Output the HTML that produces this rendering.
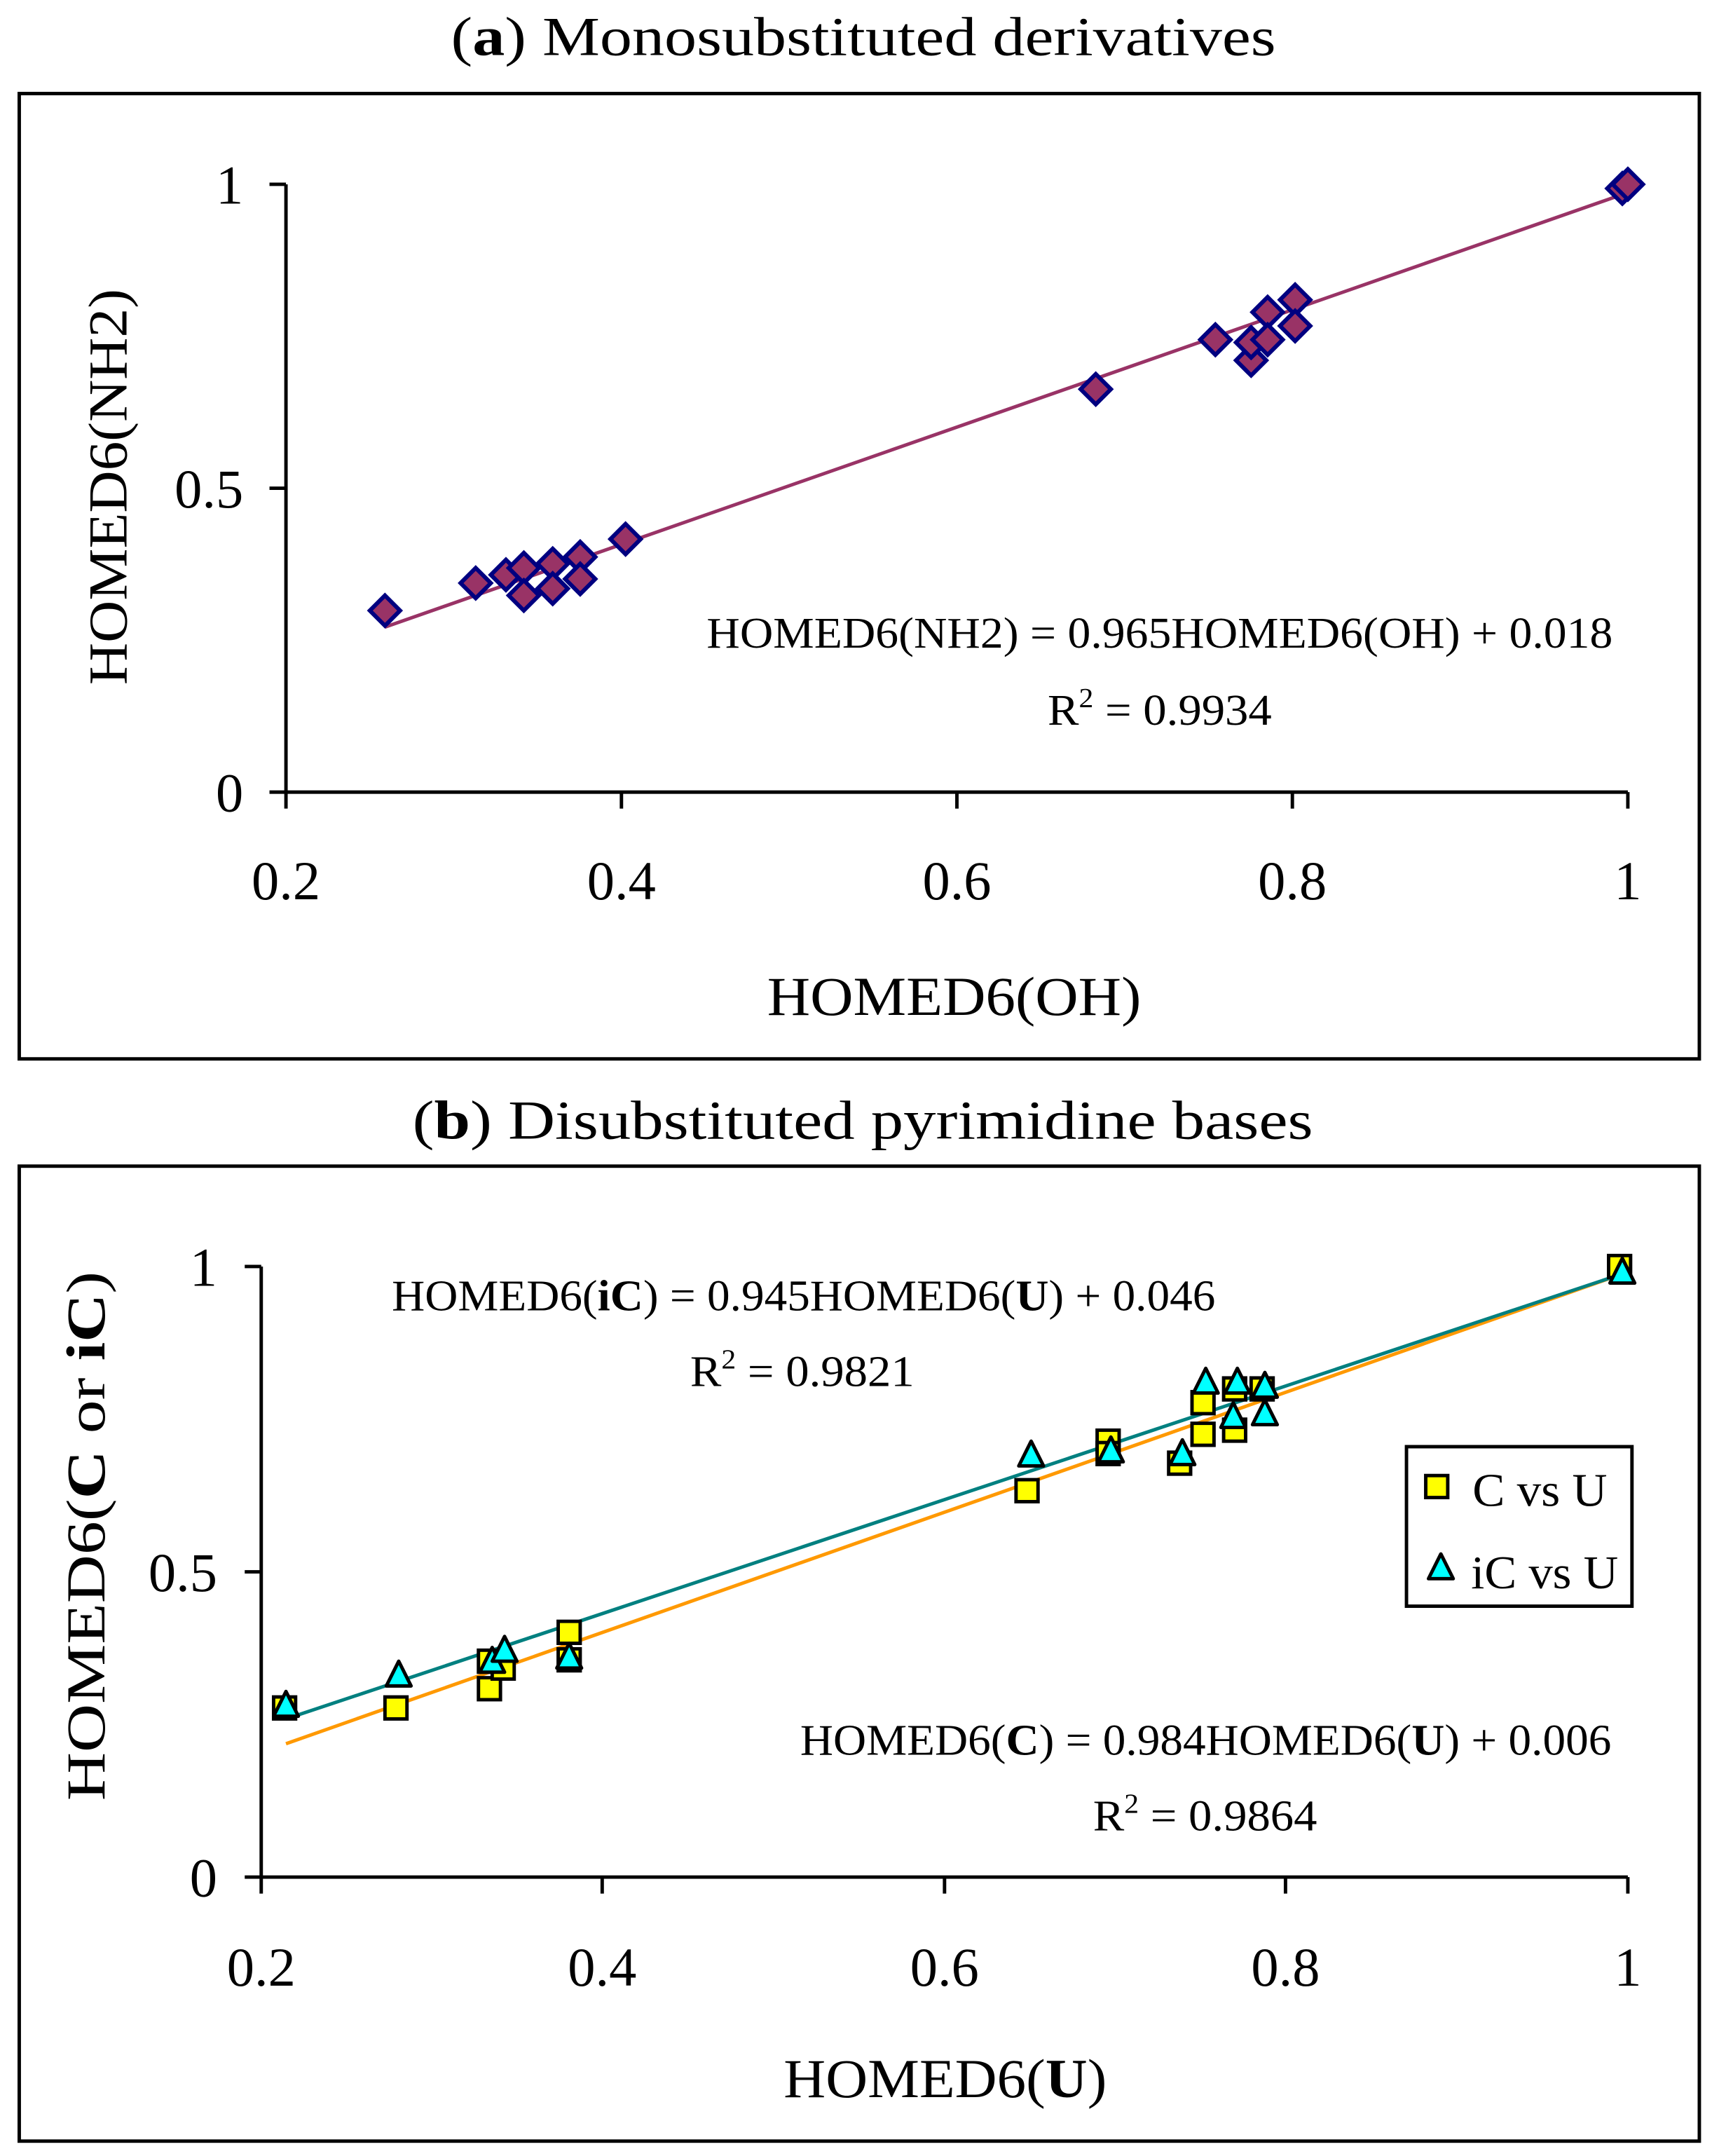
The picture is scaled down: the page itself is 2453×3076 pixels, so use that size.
<!DOCTYPE html>
<html><head><meta charset="utf-8"><style>
html,body{margin:0;padding:0;background:#fff;}
svg{display:block;}
text{font-family:"Liberation Serif",serif;fill:#000;}
</style></head><body>
<svg width="2453" height="3076" viewBox="0 0 1250.3 1567.8" xmlns="http://www.w3.org/2000/svg">
<defs>
<path id="dia" d="M0,-11 L11,0 L0,11 L-11,0 Z" fill="#993366" stroke="#000080" stroke-width="3"/>
<rect id="sq" x="-8" y="-8" width="16" height="16" fill="#ffff00" stroke="#000" stroke-width="2.5"/>
<path id="tri" d="M0,-10 L9,8 L-9,8 Z" fill="#00ffff" stroke="#000" stroke-width="2.5" stroke-linejoin="round"/>
</defs>
<!-- Panel A -->
<text x="328" y="40" font-size="40" textLength="600" lengthAdjust="spacingAndGlyphs">(<tspan font-weight="bold">a</tspan>) Monosubstituted derivatives</text>
<rect x="14" y="68" width="1222" height="702" fill="none" stroke="#000" stroke-width="2.5"/>
<g stroke="#000" stroke-width="2.5">
<line x1="208" y1="134" x2="208" y2="588"/>
<line x1="196" y1="576" x2="1184" y2="576"/>
<line x1="196" y1="134" x2="208" y2="134"/>
<line x1="196" y1="355" x2="208" y2="355"/>
<line x1="452" y1="576" x2="452" y2="588"/>
<line x1="696" y1="576" x2="696" y2="588"/>
<line x1="940" y1="576" x2="940" y2="588"/>
<line x1="1184" y1="576" x2="1184" y2="588"/>
</g>
<g font-size="40" text-anchor="end">
<text x="177" y="148">1</text><text x="177" y="369">0.5</text><text x="177" y="590">0</text>
</g>
<g font-size="40" text-anchor="middle">
<text x="208" y="654">0.2</text><text x="452" y="654">0.4</text><text x="696" y="654">0.6</text><text x="940" y="654">0.8</text><text x="1184" y="654">1</text>
</g>
<text x="558" y="738" font-size="40" textLength="272" lengthAdjust="spacingAndGlyphs">HOMED6(OH)</text>
<text transform="translate(92,354) rotate(-90)" font-size="40" text-anchor="middle" textLength="288" lengthAdjust="spacingAndGlyphs">HOMED6(NH2)</text>
<line x1="280" y1="456" x2="1184" y2="140" stroke="#993366" stroke-width="2.5"/>
<g>
<use href="#dia" x="280" y="444"/><use href="#dia" x="346" y="424"/><use href="#dia" x="368" y="418"/>
<use href="#dia" x="381" y="413"/><use href="#dia" x="381" y="433"/><use href="#dia" x="402" y="410"/>
<use href="#dia" x="402" y="428"/><use href="#dia" x="422" y="405"/><use href="#dia" x="422" y="421"/>
<use href="#dia" x="455" y="392"/><use href="#dia" x="797" y="283"/><use href="#dia" x="884" y="247"/>
<use href="#dia" x="910" y="262"/><use href="#dia" x="910" y="249"/><use href="#dia" x="922" y="227"/>
<use href="#dia" x="922" y="247"/><use href="#dia" x="942" y="218"/><use href="#dia" x="942" y="237"/>
<use href="#dia" x="1180" y="137"/><use href="#dia" x="1184" y="134"/>
</g>
<text x="514" y="471" font-size="32" textLength="659" lengthAdjust="spacingAndGlyphs">HOMED6(NH2) = 0.965HOMED6(OH) + 0.018</text>
<text x="762" y="527" font-size="32" textLength="163" lengthAdjust="spacingAndGlyphs">R<tspan font-size="20" dy="-13">2</tspan><tspan dy="13"> = 0.9934</tspan></text>

<!-- Panel B -->
<text x="300" y="828" font-size="40" textLength="655" lengthAdjust="spacingAndGlyphs">(<tspan font-weight="bold">b</tspan>) Disubstituted pyrimidine bases</text>
<rect x="14" y="848" width="1222" height="709" fill="none" stroke="#000" stroke-width="2.5"/>
<g stroke="#000" stroke-width="2.5">
<line x1="190" y1="921" x2="190" y2="1377"/>
<line x1="178" y1="1365" x2="1184" y2="1365"/>
<line x1="178" y1="921" x2="190" y2="921"/>
<line x1="178" y1="1143" x2="190" y2="1143"/>
<line x1="438" y1="1365" x2="438" y2="1377"/>
<line x1="687" y1="1365" x2="687" y2="1377"/>
<line x1="935" y1="1365" x2="935" y2="1377"/>
<line x1="1184" y1="1365" x2="1184" y2="1377"/>
</g>
<g font-size="40" text-anchor="end">
<text x="158" y="935">1</text><text x="158" y="1157">0.5</text><text x="158" y="1379">0</text>
</g>
<g font-size="40" text-anchor="middle">
<text x="190" y="1444">0.2</text><text x="438" y="1444">0.4</text><text x="687" y="1444">0.6</text><text x="935" y="1444">0.8</text><text x="1184" y="1444">1</text>
</g>
<text x="570" y="1525" font-size="40" textLength="235" lengthAdjust="spacingAndGlyphs">HOMED6(<tspan font-weight="bold">U</tspan>)</text>
<text transform="translate(76,1117) rotate(-90)" font-size="40" text-anchor="middle" textLength="385" lengthAdjust="spacingAndGlyphs">HOMED6(<tspan font-weight="bold">C</tspan> or <tspan font-weight="bold">iC</tspan>)</text>
<line x1="208" y1="1268" x2="1184" y2="925" stroke="#ff9900" stroke-width="2.5"/>
<line x1="208" y1="1250" x2="1184" y2="925" stroke="#008080" stroke-width="2.5"/>
<g>
<use href="#sq" x="207" y="1242"/><use href="#sq" x="288" y="1242"/><use href="#sq" x="356" y="1228"/>
<use href="#sq" x="356" y="1208"/><use href="#sq" x="366" y="1213"/><use href="#sq" x="414" y="1187"/>
<use href="#sq" x="414" y="1207"/><use href="#sq" x="747" y="1084"/><use href="#sq" x="806" y="1048"/>
<use href="#sq" x="806" y="1057"/><use href="#sq" x="858" y="1064"/><use href="#sq" x="875" y="1043"/>
<use href="#sq" x="875" y="1020"/><use href="#sq" x="898" y="1010"/><use href="#sq" x="898" y="1040"/>
<use href="#sq" x="918" y="1010"/><use href="#sq" x="1178" y="921"/>
</g>
<g>
<use href="#tri" x="208" y="1240"/><use href="#tri" x="290" y="1218"/><use href="#tri" x="358" y="1208"/>
<use href="#tri" x="367" y="1200"/><use href="#tri" x="414" y="1205"/><use href="#tri" x="750" y="1058"/>
<use href="#tri" x="808" y="1055"/><use href="#tri" x="860" y="1057"/><use href="#tri" x="877" y="1005"/>
<use href="#tri" x="897" y="1030"/><use href="#tri" x="900" y="1005"/><use href="#tri" x="920" y="1028"/>
<use href="#tri" x="920" y="1008"/><use href="#tri" x="1180" y="925"/>
</g>
<text x="285" y="953" font-size="32" textLength="599" lengthAdjust="spacingAndGlyphs">HOMED6(<tspan font-weight="bold">iC</tspan>) = 0.945HOMED6(<tspan font-weight="bold">U</tspan>) + 0.046</text>
<text x="502" y="1008" font-size="32" textLength="163" lengthAdjust="spacingAndGlyphs">R<tspan font-size="20" dy="-13">2</tspan><tspan dy="13"> = 0.9821</tspan></text>
<text x="582" y="1276" font-size="32" textLength="590" lengthAdjust="spacingAndGlyphs">HOMED6(<tspan font-weight="bold">C</tspan>) = 0.984HOMED6(<tspan font-weight="bold">U</tspan>) + 0.006</text>
<text x="795" y="1331" font-size="32" textLength="163" lengthAdjust="spacingAndGlyphs">R<tspan font-size="20" dy="-13">2</tspan><tspan dy="13"> = 0.9864</tspan></text>
<!-- legend -->
<rect x="1023" y="1052" width="164" height="116" fill="#fff" stroke="#000" stroke-width="2.5"/>
<use href="#sq" x="1045" y="1081"/>
<text x="1071" y="1095" font-size="34" textLength="98" lengthAdjust="spacingAndGlyphs">C vs U</text>
<use href="#tri" x="1048" y="1140"/>
<text x="1070" y="1155" font-size="34" textLength="107" lengthAdjust="spacingAndGlyphs">iC vs U</text>
</svg>
</body></html>
